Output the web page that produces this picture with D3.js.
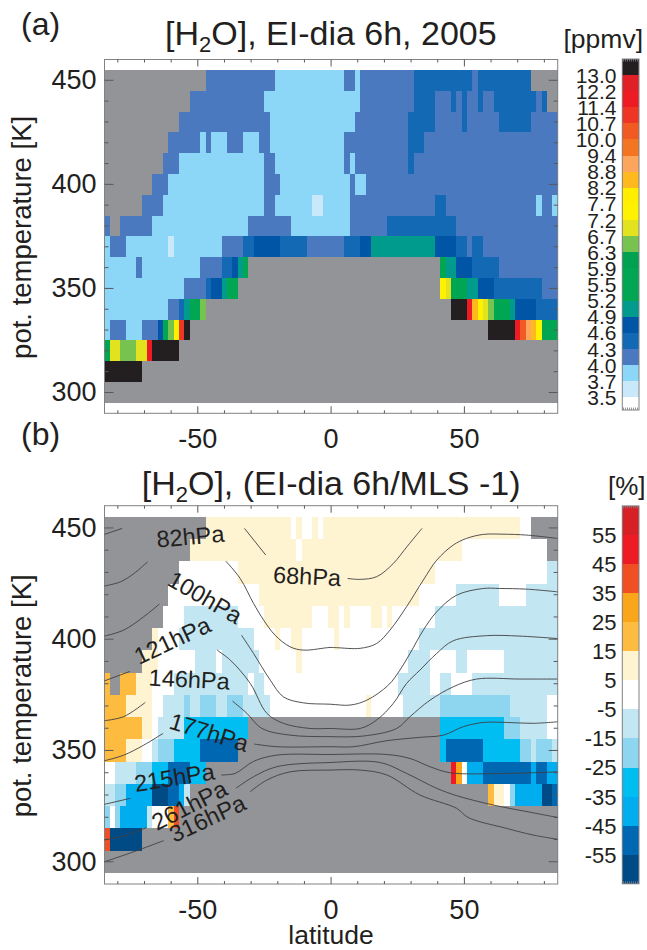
<!DOCTYPE html>
<html lang="en">
<head>
<meta charset="UTF-8">
<title>H2O EI-dia 6h 2005</title>
<style>
  html, body { margin: 0; padding: 0; background: #fff; }
  svg { display: block; }
  text { font-family: "Liberation Sans", Arial, sans-serif; fill: #231f20; }
</style>
</head>
<body>
<script src="https://d3js.org/d3.v7.min.js"></script>
<script>
const N = null; // no data (grey)

// theta of each row, top to bottom
const thetaLevels = [450, 440, 430, 420, 410, 400, 390, 380, 370, 360, 350, 340, 330, 320, 310, 300];
const latStart = -85, latStep = 2; // 85 bins of 2 degrees

// panel (a) ppmv, per row as run length: count, value, count, value ...
const h2oRuns = [
  [19,N,13,4.15,13,3.85,2,4.15,1,3.85,10,4.15,11,4.45,1,4.15,10,4.45,5,N],
  [16,N,14,4.15,18,3.85,10,4.15,4,4.45,3,4.15,1,4.45,1,4.15,1,4.45,2,4.15,1,4.45,2,4.15,8,4.45,1,4.15,1,4.45,2,N],
  [14,N,17,4.15,16,3.85,10,4.15,5,4.45,5,4.15,1,4.45,6,4.15,6,4.45,5,4.15],
  [12,N,6,4.15,1,3.85,1,4.15,3,3.85,3,4.15,3,3.85,2,4.15,14,3.85,12,4.15,3,4.45,25,4.15],
  [11,N,3,4.15,16,3.85,2,4.15,13,3.85,1,4.15,1,3.85,10,4.15,1,4.45,27,4.15],
  [9,N,3,4.15,18,3.85,3,4.15,13,3.85,1,4.15,2,3.85,36,4.15],
  [7,N,4,4.15,19,3.85,2,4.15,7,3.85,2,3.6,5,3.85,16,4.15,2,4.45,17,4.15,1,3.85,2,4.15,1,3.85],
  [1,4.15,2,N,6,4.15,18,3.85,8,4.15,11,3.85,7,4.15,13,4.45,19,4.15],
  [1,3.85,3,4.15,8,3.85,1,3.6,9,3.85,4,4.15,2,4.45,5,4.75,5,4.45,7,4.15,3,4.45,2,4.75,12,5.05,4,4.75,2,4.45,1,4.15,2,4.45,14,4.15],
  [6,3.85,1,4.15,11,3.85,4,4.15,2,4.45,1,4.75,1,5.05,1,5.35,36,N,1,5.35,2,5.05,3,4.75,5,4.45,11,4.15],
  [15,3.85,4,4.15,1,4.45,2,4.75,1,5.05,2,5.35,38,N,1,7.45,1,6.95,3,5.35,2,5.05,3,4.75,9,4.45,3,4.15],
  [12,3.85,2,4.15,1,4.45,1,5.05,2,5.35,1,6.5,46,N,3,13.5,1,11.8,1,8.5,1,7.45,1,6.95,1,6.5,3,5.35,1,5.05,4,4.75,4,4.45],
  [1,3.85,3,4.15,3,3.85,3,4.15,1,4.75,1,5.35,1,6.5,1,7.45,1,11,1,13.5,56,N,5,13.5,1,11.8,1,10.3,1,9.1,1,8.5,1,7.45,3,5.35],
  [1,5.35,2,6.95,3,6.5,2,6.95,1,11.8,5,13.5,71,N],
  [7,13.5,78,N],
  [85,N]
];

// panel (b) percent deviation, same layout
const devRuns = [
  [19,N,16,10,1,0,1,10,2,0,1,10,1,0,37,10,2,0,5,N],
  [16,N,20,10,1,0,30,10,16,0,2,N],
  [14,N,11,0,37,10,21,0,2,-10],
  [12,N,17,0,30,10,7,0,8,-10,5,0,6,-10],
  [11,N,4,0,10,-10,5,0,9,10,3,0,2,10,1,0,1,10,4,0,2,10,1,0,1,10,8,0,23,-10],
  [9,N,1,10,4,0,14,-10,4,0,1,10,2,0,2,10,6,0,1,10,15,0,26,-10],
  [7,N,3,10,7,0,4,-10,1,0,7,-10,7,0,1,10,20,0,4,-10,5,0,2,-10,7,0,10,-10],
  [1,20,2,N,3,20,3,10,4,0,14,-10,1,0,2,-10,25,0,6,-10,2,0,2,-10,4,0,16,-10],
  [4,20,5,10,2,0,4,-10,1,-20,2,-10,3,-20,2,-10,3,-20,5,-10,18,0,1,10,6,0,7,-10,13,-20,7,-10,2,0],
  [7,20,2,10,1,0,5,-10,12,-30,36,N,12,-30,3,-20,5,-10,2,0],
  [4,20,3,10,2,0,1,-10,3,-20,5,-30,7,-50,38,N,1,-30,7,-50,7,-30,2,-20,1,-10,3,-20,1,-10],
  [2,0,4,-10,3,-20,3,-30,4,-50,3,-30,46,N,1,50,1,30,1,0,3,-40,9,-50,1,-40,2,-50,2,-40],
  [2,-10,2,-20,5,-40,3,-60,2,-50,1,-40,1,-10,56,N,1,20,2,10,1,0,1,-20,5,-40,2,-60,1,-50],
  [1,-20,1,0,1,-20,5,-40,1,-10,3,0,1,20,1,40,71,N],
  [1,40,6,-60,78,N],
  [85,N]
];

// colour bars
const h2oTicks = [3.5, 3.7, 4.0, 4.3, 4.6, 4.9, 5.2, 5.5, 5.9, 6.3, 6.7, 7.2, 7.7, 8.2, 8.8, 9.4, 10.0, 10.7, 11.4, 12.2, 13.0];
const h2oColors = ['#ffffff', '#c9e9fa', '#8cd6f7', '#4a79bf', '#1469b4', '#0055a6', '#009b8c', '#00a651', '#00a651', '#00a14f',
  '#78c250', '#e2e31e', '#fff200', '#ffee00', '#fdb91e', '#fba65c', '#f47521', '#f15a22', '#ef3523', '#ed1c24', '#e01f27', '#231f20'];
const devTicks = [-55, -45, -35, -25, -15, -5, 5, 15, 25, 35, 45, 55];
const devColors = ['#004b85', '#0068b3', '#00aeef', '#00bdf2', '#8ed6ef', '#c2e6f2', '#ffffff', '#fff4d2', '#fdbb40', '#faa61a', '#f04e23', '#ed1c24', '#d71f26'];

// isobars, [lat, theta], broken where the label sits
const isobars = {
  '68hPa': [
    [[-85,447.1],[-78.4,449.8]],
    [[-32.5,449.8],[-24.5,437.8]],
    [[6.2,427.3],[10.9,426.9],[17.1,428.1],[23.3,434],[28.6,441.8],[34.1,449.8]]
  ],
  '82hPa': [
    [[-85,423.9],[-79,425.8],[-74,429.5],[-68.8,434.8]],
    [[-39.5,435.1],[-34.1,427.3],[-29.1,416.1],[-25.3,408.6],[-21,401.8],[-15.4,396.6],[-10.4,395.1],[-0.4,396.3],[2.1,396.2],[10.9,395.9],[17.1,398.1],[22.1,404.1],[28.3,414.6],[34.6,426.6],[39.6,435.5],[45.8,442.3],[50.8,445.3],[57.1,447.1],[64.5,447.2],[73.3,446.8],[84.9,445.3]]
  ],
  '100hPa': [
    [[-85,401.4],[-77.8,404.1],[-70.3,410.1],[-64.4,415.8]],
    [[-33.6,401.8],[-29.1,393.6],[-22.8,381.6],[-17.9,374.1],[-10.4,371.4],[-0.4,370.8],[7.1,370.4],[13.4,372.6],[21.5,379.4],[25.8,386.1],[29.6,393.6],[34.6,404.1],[39.6,412.3],[47.1,419.8],[57.1,422.8],[63.3,422.8],[73.3,422.5],[84.9,421.3]]
  ],
  '121hPa': [
    [[-85,381.3],[-75.5,385.5]],
    [[-42.8,395.1],[-37.8,390.6],[-30.3,380.1],[-24.1,366.7],[-17.9,362.2],[-7.9,359.9],[-0.4,359.9],[10.9,359.9],[17.1,363.7],[23.3,371.1],[28.3,380.1],[33.3,386.1],[39.6,393.6],[45.8,399.3],[58.3,401.6],[70.8,401.4],[84.9,400.3]]
  ],
  '146hPa': [
    [[-85,363.4],[-77.8,365.2],[-69.7,371.6]],
    [[-37,372.2],[-31.6,366.7],[-26,359.9],[-15.4,356.9],[-0.4,356.2],[12.1,356.5],[24.6,359.9],[29.6,365.2],[37.1,372.6],[45.8,378.6],[54.6,382.1],[70.8,382.1],[84.9,382.1]]
  ],
  '177hPa': [
    [[-85,345.4],[-77.8,347.9],[-70.3,352.4],[-63,357.7]],
    [[-28.8,352.9],[-20.4,351.7],[-0.4,351.7],[8.4,351.7],[20.9,354.4],[33.3,355.9],[42.1,356.9],[49.6,360.7],[57.1,362.6],[65.8,362.6],[75.8,362.2],[84.9,362.9]]
  ],
  '215hPa': [
    [[-85,325.8],[-75.3,328.5]],
    [[-41.2,339],[-36,339.7],[-29.1,345.1],[-20.4,347.9],[-0.4,348.2],[20.9,348.2],[29.6,346.4],[37.1,342.7],[44.6,340],[65.8,339.7],[84.9,340.4]]
  ],
  '261hPa': [
    [[-85,309.8],[-77.8,311.6],[-69.3,315.3]],
    [[-35.7,333],[-29.1,338.2],[-20.4,342.7],[-0.4,344.6],[18.4,344.6],[28.3,339.7],[39.6,333],[47.1,329.7],[60.8,325.5],[75.8,322],[84.9,319.9]]
  ],
  '316hPa': [
    [[-85,300],[-74,304.5],[-62.8,309.5]],
    [[-30.3,331.5],[-24.1,336.7],[-15.4,340.4],[-0.4,341.2],[10.9,341.2],[20.9,339],[33.3,330],[47.1,324],[51.4,319.9],[65.8,315],[75.8,312],[84.9,310.1]]
  ]
};
// isobar labels: text, lat, theta, rotation
const isobarLabels = [
  ['82hPa', -52.8, 446.3, -5],
  ['68hPa', -9, 428.4, 3],
  ['100hPa', -47.2, 418.9, 30],
  ['121hPa', -59.6, 399.6, -25],
  ['146hPa', -53.2, 382.1, 3],
  ['177hPa', -45.7, 358.3, 17],
  ['215hPa', -58.8, 338, -9],
  ['261hPa', -53.2, 325.5, -27],
  ['316hPa', -46.4, 319.6, -25]
];

const xTicks = [-50, 0, 50];
const yTicks = [300, 350, 400, 450];

const width = 647, height = 950;
const svg = d3.select('body').append('svg').attr('width', width).attr('height', height);

const x = d3.scaleLinear().domain([-85, 85]).range([104.5, 557.7]);

function expandRuns(runs) {
  const cells = [];
  runs.forEach((row, r) => {
    let col = 0;
    for (let i = 0; i < row.length; i += 2) {
      cells.push({ lat0: latStart + col * latStep, lat1: latStart + (col + row[i]) * latStep, theta: thetaLevels[r], v: row[i + 1] });
      col += row[i];
    }
  });
  return cells;
}

function drawPanel(runs, color, top, bottom) {
  const y = d3.scaleLinear().domain([290, 460]).range([bottom, top]);
  const g = svg.append('g');

  g.selectAll('rect.cell').data(expandRuns(runs)).enter().append('rect')
    .attr('class', 'cell')
    .attr('x', d => x(d.lat0))
    .attr('width', d => x(d.lat1) - x(d.lat0))
    .attr('y', d => y(d.theta + 5))
    .attr('height', d => y(d.theta - 5) - y(d.theta + 5))
    .attr('fill', d => d.v === null ? '#929497' : color(d.v))
    .attr('shape-rendering', 'crispEdges');

  // frame and ticks, all inward
  const frame = '#808285', tick = '#58595b';
  g.append('rect').attr('x', x(-85)).attr('y', top).attr('width', x(85) - x(-85)).attr('height', bottom - top)
    .attr('fill', 'none').attr('stroke', frame).attr('stroke-width', 1);

  d3.range(-80, 81, 10).forEach(lat => {
    const len = lat % 50 === 0 ? 7 : 3;
    g.append('line').attr('x1', x(lat)).attr('x2', x(lat)).attr('y1', top).attr('y2', top + len).attr('stroke', tick);
    g.append('line').attr('x1', x(lat)).attr('x2', x(lat)).attr('y1', bottom).attr('y2', bottom - len).attr('stroke', tick);
  });
  d3.range(300, 451, 10).forEach(th => {
    const len = th % 50 === 0 ? 9 : 4;
    g.append('line').attr('x1', x(-85)).attr('x2', x(-85) + len).attr('y1', y(th)).attr('y2', y(th)).attr('stroke', tick);
    g.append('line').attr('x1', x(85)).attr('x2', x(85) - len).attr('y1', y(th)).attr('y2', y(th)).attr('stroke', tick);
  });

  g.selectAll('text.yt').data(yTicks).enter().append('text')
    .attr('class', 'yt')
    .attr('x', 96.5).attr('y', d => y(d) + 9)
    .attr('text-anchor', 'end').attr('font-size', 27)
    .text(d => d);

  g.selectAll('text.xt').data(xTicks).enter().append('text')
    .attr('class', 'xt')
    .attr('x', d => x(d)).attr('y', bottom + 35)
    .attr('text-anchor', 'middle').attr('font-size', 27)
    .text(d => d);

  g.append('text')
    .attr('transform', `translate(31,${(top + bottom) / 2 + 1}) rotate(-90)`)
    .attr('text-anchor', 'middle').attr('font-size', 27.5)
    .text('pot. temperature [K]');

  return y;
}

function drawTitle(xPos, yPos, rest) {
  const t = svg.append('text').attr('x', xPos).attr('y', yPos).attr('font-size', 34);
  t.append('tspan').text('[H');
  t.append('tspan').attr('font-size', 22).attr('dy', 7).text('2');
  t.append('tspan').attr('dy', -7).text('O], ' + rest);
}

function drawBar(ticks, colors, yOf, lowEdge, highEdge, labelFont, fmt) {
  // cells lie between consecutive tick values, first and last run out to the edge values
  const edges = [lowEdge, ...ticks, highEdge];
  const g = svg.append('g');
  g.selectAll('rect').data(colors).enter().append('rect')
    .attr('x', 622.3).attr('width', 16.7)
    .attr('y', (d, i) => yOf(edges[i + 1]))
    .attr('height', (d, i) => yOf(edges[i]) - yOf(edges[i + 1]))
    .attr('fill', d => d)
    .attr('shape-rendering', 'crispEdges');
  g.append('rect').attr('x', 622.3).attr('width', 16.7)
    .attr('y', yOf(highEdge)).attr('height', yOf(lowEdge) - yOf(highEdge))
    .attr('fill', 'none').attr('stroke', '#808285');
  g.selectAll('text').data(ticks).enter().append('text')
    .attr('x', 616.5).attr('y', d => yOf(d) + labelFont * 0.36)
    .attr('text-anchor', 'end').attr('font-size', labelFont)
    .text(fmt);
  // little hatch marks on the end of the bar
  [lowEdge, highEdge].forEach(e => {
    const dir = e === lowEdge ? -1 : 1;
    d3.range(623.5, 639, 2).forEach(px => {
      g.append('line').attr('x1', px).attr('x2', px)
        .attr('y1', yOf(e)).attr('y2', yOf(e) + dir * 2.5)
        .attr('stroke', '#808285').attr('stroke-width', 0.8);
    });
  });
}

// panel a
const colorA = d3.scaleThreshold().domain(h2oTicks).range(h2oColors);
drawPanel(h2oRuns, colorA, 59.5, 413.3);
drawTitle(165, 45, 'EI-dia 6h, 2005');
svg.append('text').attr('x', 21).attr('y', 35).attr('font-size', 32).text('(a)');

// unevenly spaced values, evenly spaced on the bar
const barPoints = d3.scalePoint().domain(h2oTicks).range([397.3, 75]);
const barA = v => v < 3.5 ? 410 : v > 13 ? 59 : barPoints(v);
drawBar(h2oTicks, h2oColors, barA, 3.2, 13.5, 21, d => d.toFixed(1));
svg.append('text').attr('x', 563.5).attr('y', 48).attr('font-size', 26.5).text('[ppmv]');

// panel b
const colorB = d3.scaleThreshold().domain(devTicks).range(devColors);
const yB = drawPanel(devRuns, colorB, 505.7, 884);
drawTitle(141.7, 495, '(EI-dia 6h/MLS -1)');
svg.append('text').attr('x', 21).attr('y', 445).attr('font-size', 32).text('(b)');

const line = d3.line().x(d => x(d[0])).y(d => yB(d[1])).curve(d3.curveCatmullRom);
Object.values(isobars).forEach(segs => {
  segs.forEach(seg => {
    svg.append('path').attr('d', line(seg)).attr('fill', 'none').attr('stroke', '#414042').attr('stroke-width', 0.9);
  });
});
svg.selectAll('text.iso').data(isobarLabels).enter().append('text')
  .attr('class', 'iso')
  .attr('transform', d => `translate(${x(d[1])},${yB(d[2])}) rotate(${d[3]})`)
  .attr('text-anchor', 'middle').attr('dy', '0.36em')
  .attr('font-size', 23.5)
  .text(d => d[0]);

const barB = d3.scaleLinear().domain([-65, 65]).range([883.8, 505.9]);
drawBar(devTicks, devColors, barB, -65, 65, 22, d => d);
svg.append('text').attr('x', 608).attr('y', 495).attr('font-size', 26).text('[%]');

svg.append('text').attr('x', 331).attr('y', 944).attr('text-anchor', 'middle').attr('font-size', 26.5).text('latitude');
</script>
</body>
</html>
